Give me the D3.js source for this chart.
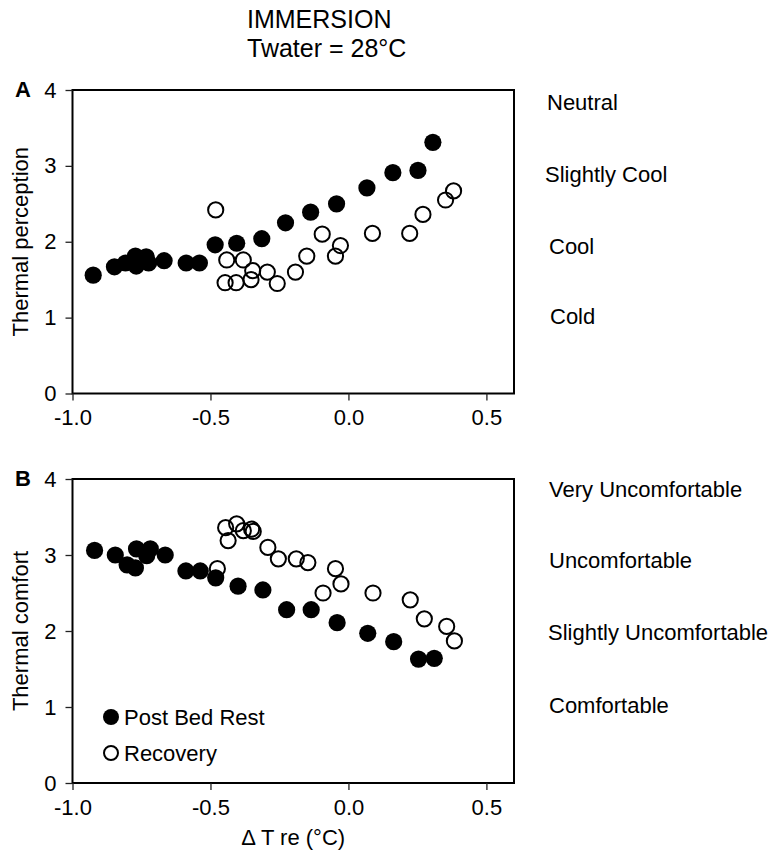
<!DOCTYPE html>
<html>
<head>
<meta charset="utf-8">
<script src="https://cdn.jsdelivr.net/npm/d3@7"></script>
<style>
  body { margin: 0; background: #fff; }
  svg { display: block; font-family: "Liberation Sans", Arial, sans-serif; }
</style>
</head>
<body>
<script>

// delta T re (deg C) and ratings
var percPostX = [-0.925, -0.848, -0.808, -0.772, -0.769, -0.733, -0.724, -0.668, -0.588, -0.540,
    -0.483, -0.405, -0.314, -0.228, -0.137, -0.043, 0.067, 0.161, 0.252, 0.306];
var percPostY = [1.56, 1.67, 1.72, 1.81, 1.68, 1.80, 1.72, 1.75, 1.72, 1.72,
    1.96, 1.98, 2.04, 2.25, 2.39, 2.50, 2.71, 2.91, 2.94, 3.31];

var percRecX = [-0.481, -0.441, -0.447, -0.407, -0.381, -0.347, -0.353, -0.294, -0.258, -0.192,
    -0.151, -0.095, -0.047, -0.029, 0.087, 0.222, 0.270, 0.352, 0.381];
var percRecY = [2.42, 1.76, 1.46, 1.46, 1.76, 1.62, 1.50, 1.60, 1.45, 1.60,
    1.81, 2.10, 1.81, 1.95, 2.11, 2.11, 2.36, 2.55, 2.67];

var comfPostX = [-0.920, -0.845, -0.802, -0.772, -0.768, -0.731, -0.718, -0.664, -0.589, -0.537,
    -0.481, -0.400, -0.310, -0.224, -0.135, -0.041, 0.070, 0.164, 0.254, 0.311];
var comfPostY = [3.06, 3.00, 2.87, 2.83, 3.08, 2.99, 3.08, 3.00, 2.79, 2.79,
    2.70, 2.59, 2.54, 2.28, 2.28, 2.11, 1.97, 1.86, 1.63, 1.64];

var comfRecX = [-0.475, -0.445, -0.436, -0.405, -0.381, -0.351, -0.345, -0.292, -0.254, -0.189,
    -0.147, -0.092, -0.047, -0.027, 0.089, 0.224, 0.275, 0.356, 0.384];
var comfRecY = [2.82, 3.36, 3.19, 3.41, 3.32, 3.34, 3.31, 3.10, 2.95, 2.95,
    2.90, 2.50, 2.82, 2.62, 2.50, 2.41, 2.16, 2.06, 1.87];

var xTicks = [-1.0, -0.5, 0.0, 0.5];
var yTicks = [0, 1, 2, 3, 4];
var percLabels = ['Neutral', 'Slightly Cool', 'Cool', 'Cold'];
var comfLabels = ['Very Uncomfortable', 'Uncomfortable', 'Slightly Uncomfortable', 'Comfortable'];
var legendNames = ['Post Bed Rest', 'Recovery'];

var width = 783,
    height = 862;

var svg = d3.select('body')
    .append('svg')
    .attr('width', width)
    .attr('height', height);

var x = d3.scaleLinear()
    .domain([-1, 0.6])
    .range([72.5, 514]);

// plain hyphen for negatives, like the original
var fmtX = function(d) { return d.toFixed(1); };

svg.append('text')
    .attr('x', 247)
    .attr('y', 28)
    .style('font-size', '25px')
    .text('IMMERSION');

svg.append('text')
    .attr('x', 247)
    .attr('y', 57)
    .style('font-size', '25px')
    .text('Twater = 28\u00B0C');

var makePanel = function(opt) {
    var y = d3.scaleLinear()
        .domain([0, 4])
        .range([opt.bottom, opt.top]);

    var g = svg.append('g');

    // frame
    g.append('rect')
        .attr('x', x(-1))
        .attr('y', y(4))
        .attr('width', x(0.6) - x(-1))
        .attr('height', y(0) - y(4))
        .style('fill', 'none')
        .style('stroke', '#000')
        .style('stroke-width', 2);

    var yAxis = g.append('g')
        .attr('transform', 'translate(' + x(-1) + ',0)')
        .call(d3.axisLeft(y).tickValues(yTicks).tickFormat(d3.format('d'))
            .tickSize(7).tickPadding(9).tickSizeOuter(0));

    var xAxis = g.append('g')
        .attr('transform', 'translate(0,' + y(0) + ')')
        .call(d3.axisBottom(x).tickValues(xTicks).tickFormat(fmtX)
            .tickSize(7).tickPadding(9).tickSizeOuter(0));

    [yAxis, xAxis].forEach(function(a) {
        a.select('.domain').remove();
        a.selectAll('line').style('stroke', '#222').style('stroke-width', 1.3);
        a.selectAll('text')
            .style('font-size', '22px')
            .style('font-family', '"Liberation Sans", Arial, sans-serif')
            .style('fill', '#000');
    });

    g.append('text')
        .attr('transform', 'translate(28,' + ((y(0) + y(4)) / 2) + ') rotate(-90)')
        .attr('text-anchor', 'middle')
        .style('font-size', '22px')
        .text(opt.yTitle);

    g.append('text')
        .attr('x', 15)
        .attr('y', y(4) + 7)
        .style('font-size', '22px')
        .style('font-weight', 'bold')
        .text(opt.letter);

    // rating words on the right
    g.selectAll('text.rating')
        .data(opt.ratings)
        .enter()
        .append('text')
        .classed('rating', true)
        .attr('x', function(d, i) { return opt.ratingX[i]; })
        .attr('y', function(d, i) { return opt.ratingY[i]; })
        .style('font-size', '22px')
        .text(function(d) { return d; });

    var recData = opt.recX.map(function(d, i) { return [d, opt.recY[i]]; });
    var postData = opt.postX.map(function(d, i) { return [d, opt.postY[i]]; });

    g.selectAll('circle.rec')
        .data(recData)
        .enter()
        .append('circle')
        .classed('rec', true)
        .attr('cx', function(d) { return x(d[0]); })
        .attr('cy', function(d) { return y(d[1]); })
        .attr('r', 7.6)
        .style('fill', 'none')
        .style('stroke', '#000')
        .style('stroke-width', 2);

    g.selectAll('circle.post')
        .data(postData)
        .enter()
        .append('circle')
        .classed('post', true)
        .attr('cx', function(d) { return x(d[0]); })
        .attr('cy', function(d) { return y(d[1]); })
        .attr('r', 8.6)
        .style('fill', '#000');

    return y;
};

makePanel({
    top: 90, bottom: 393.5,
    letter: 'A',
    yTitle: 'Thermal perception',
    ratings: percLabels,
    ratingX: [547, 545, 549, 550],
    ratingY: [110, 182, 254, 324],
    postX: percPostX, postY: percPostY,
    recX: percRecX, recY: percRecY
});

makePanel({
    top: 479, bottom: 783,
    letter: 'B',
    yTitle: 'Thermal comfort',
    ratings: comfLabels,
    ratingX: [549, 549, 548, 549],
    ratingY: [497, 568, 640, 713],
    postX: comfPostX, postY: comfPostY,
    recX: comfRecX, recY: comfRecY
});

svg.append('text')
    .attr('x', (x(-1) + x(0.6)) / 2)
    .attr('y', 845)
    .attr('text-anchor', 'middle')
    .style('font-size', '22px')
    .text('\u0394 T re (\u00B0C)');

// legend
var legend = svg.append('g');

legend.append('circle')
    .attr('cx', 111)
    .attr('cy', 717)
    .attr('r', 8)
    .style('fill', '#000');

legend.append('circle')
    .attr('cx', 111)
    .attr('cy', 753)
    .attr('r', 7)
    .style('fill', 'none')
    .style('stroke', '#000')
    .style('stroke-width', 2);

legend.selectAll('text')
    .data(legendNames)
    .enter()
    .append('text')
    .attr('x', 124)
    .attr('y', function(d, i) { return 725 + i * 36; })
    .style('font-size', '22px')
    .text(function(d) { return d; });

</script>
</body>
</html>
